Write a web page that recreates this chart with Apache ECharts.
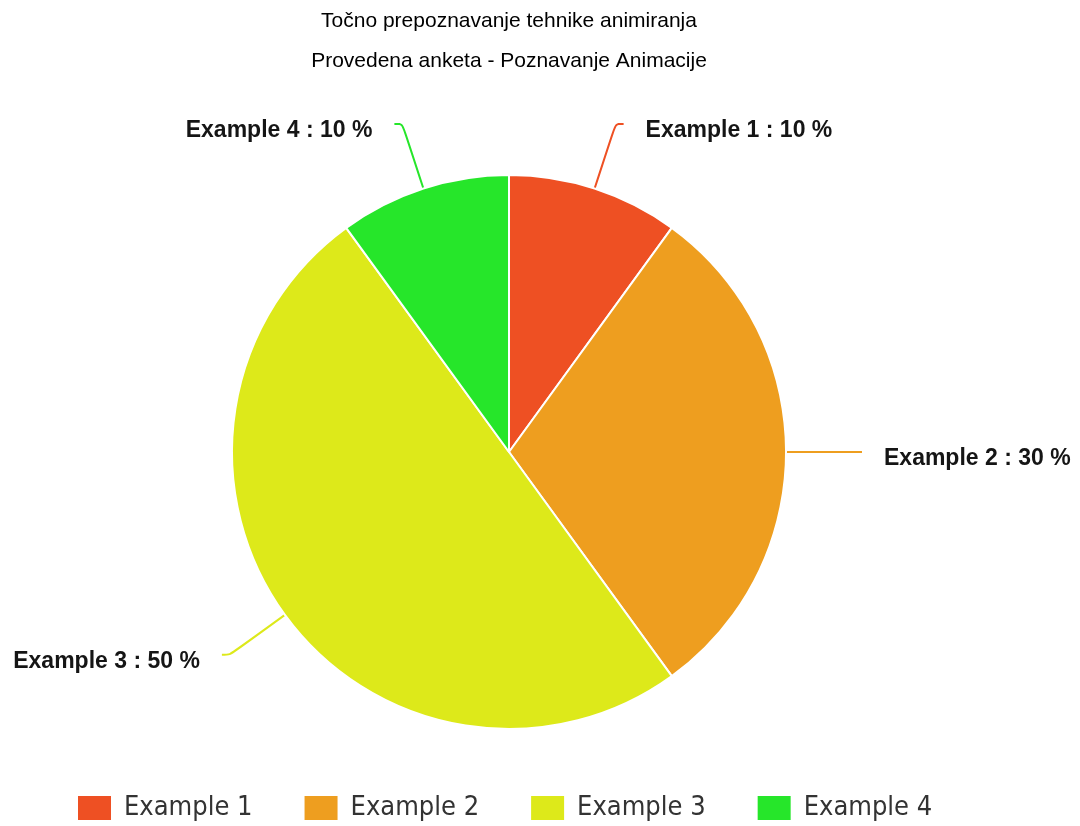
<!DOCTYPE html>
<html>
<head>
<meta charset="utf-8">
<script src="https://cdn.jsdelivr.net/npm/echarts@6/dist/echarts.min.js"></script>
<style>
  html, body { margin: 0; padding: 0; background: #fff; }
  #chart { width: 1080px; height: 826px; }
</style>
</head>
<body>
<div id="chart"></div>
<script>
  // podaci ankete
  var categories = ['Example 1', 'Example 2', 'Example 3', 'Example 4'];
  var values = [10, 30, 50, 10];
  var colors = ['#EE5023', '#EE9E1F', '#DDE91A', '#26E62A'];

  var myChart = echarts.init(document.getElementById('chart'));

  var pieData = categories.map(function (name, i) {
    return { name: name, value: values[i] };
  });

  myChart.setOption({
    animation: false,
    color: colors,
    title: {
      text: 'Točno prepoznavanje tehnike animiranja',
      subtext: 'Provedena anketa - Poznavanje Animacije',
      left: 504,
      textAlign: 'center',
      top: 6,
      itemGap: 19,
      textStyle: { fontFamily: 'Liberation Sans', fontSize: 21, fontWeight: 'normal', color: '#000' },
      subtextStyle: { fontFamily: 'Liberation Sans', fontSize: 21, color: '#000' }
    },
    legend: {
      top: 789,
      left: 71,
      itemWidth: 35,
      itemHeight: 26,
      itemGap: 50,
      icon: 'rect',
      textStyle: { fontFamily: 'DejaVu Sans Condensed', fontSize: 27, color: '#333', padding: [0, 0, 0, 7] },
      data: categories
    },
    series: [{
      type: 'pie',
      center: [509, 452],
      radius: 277,
      startAngle: 90,
      clockwise: true,
      data: pieData,
      itemStyle: { borderColor: '#fff', borderWidth: 2 },
      label: {
        formatter: '{b} : {c} %',
        fontFamily: 'Liberation Sans',
        fontSize: 23,
        fontWeight: 'bold',
        color: '#151515',
        overflow: 'none',
        distanceToLabelLine: 22
      },
      labelLayout: { dy: 7 },
      labelLine: {
        length: 68,
        length2: 8,
        smooth: true,
        lineStyle: { width: 2 }
      }
    }]
  });
</script>
</body>
</html>
